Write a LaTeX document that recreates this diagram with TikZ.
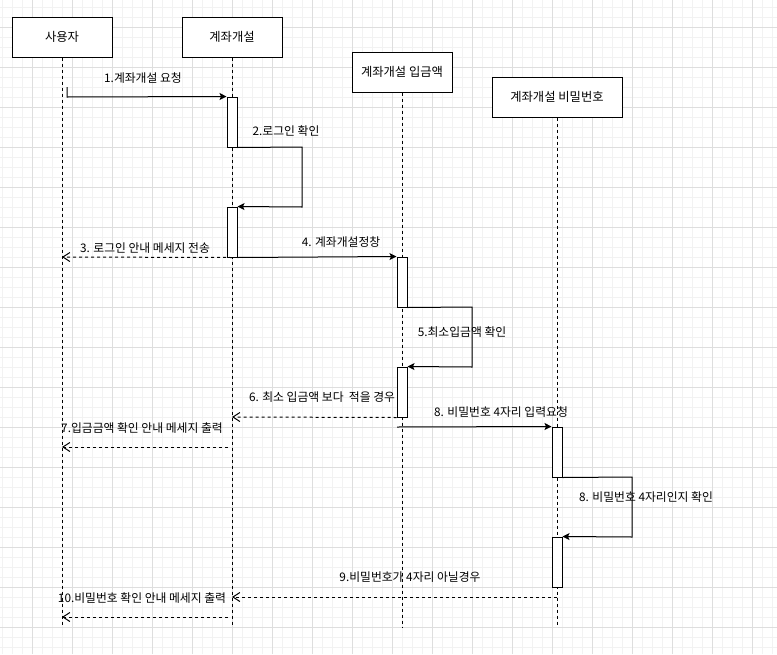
\documentclass[tikz,border=0pt]{standalone}
\usepackage{fontspec}
\setmainfont{Noto Sans CJK KR}
\usetikzlibrary{arrows.meta}
\definecolor{gridmajor}{RGB}{222,222,222}
\definecolor{gridminor}{RGB}{242,242,242}
\begin{document}
\begin{tikzpicture}[x=1pt,y=-1pt,
  actor/.style={draw,line width=1pt,fill=white,minimum height=40pt,inner sep=0pt,font=\fontsize{12.3}{14}\selectfont},
  actbar/.style={draw,line width=1pt,fill=white,minimum width=10pt,minimum height=50pt,inner sep=0pt},
  life/.style={line width=1pt,dash pattern=on 3pt off 3pt},
  msg/.style={line width=1pt,-{Stealth[length=7pt,width=7pt,inset=1.5pt]}},
  ret/.style={line width=1pt,dash pattern=on 3pt off 3pt,-{Straight Barb[length=7pt,width=9pt]}},
  lbl/.style={font=\fontsize{11.8}{13}\selectfont,inner sep=0pt}]
\useasboundingbox (0,0) rectangle (777,654);
\fill[white] (0,0) rectangle (777,654);
% grid
\foreach \x in {2,12,...,772} \draw[gridminor,line width=1pt] (\x,0) -- (\x,654);
\foreach \y in {7,17,...,647} \draw[gridminor,line width=1pt] (0,\y) -- (777,\y);
\foreach \x in {32,72,...,752} \draw[gridmajor,line width=1pt] (\x,0) -- (\x,654);
\foreach \y in {27,67,...,627} \draw[gridmajor,line width=1pt] (0,\y) -- (777,\y);
% actors
\node[actor,minimum width=100pt] (A) at (62,37) {사용자};
\node[actor,minimum width=100pt] (B) at (232,37) {계좌개설};
\node[actor,minimum width=100pt] (C) at (402,72) {계좌개설 입금액};
\node[actor,minimum width=130pt] (D) at (557,97) {계좌개설 비밀번호};
% lifeline ends
\coordinate (Aend) at (62,625);
\coordinate (Bend) at (232,625);
\coordinate (Cend) at (402,627);
\coordinate (Dend) at (557,625);
\draw[life] (A.south) -- (Aend);
\draw[life] (B.south) -- (Bend);
\draw[life] (C.south) -- (Cend);
\draw[life] (D.south) -- (Dend);
% activation bars
\node[actbar] (b1) at (232,122) {};
\node[actbar] (b2) at (232,232) {};
\node[actbar] (b3) at (402,282) {};
\node[actbar] (b4) at (402,392) {};
\node[actbar] (b5) at (557,452) {};
\node[actbar] (b6) at (557,562) {};
% helper coordinates
\coordinate (m1s) at (67,87);
\coordinate (m3e) at (62,257);
\coordinate (m7s) at (228,447);
\coordinate (m7e) at (62,447);
\coordinate (m8s) at (397,427);
\coordinate (m9s) at (557,597);
\coordinate (m9e) at (232,597);
\coordinate (m10s) at (228,617);
\coordinate (m10e) at (62,617);
% messages
\draw[msg] (m1s) -- ++(0,10) -- (b1.north west);
\node[lbl] (l1) at (143,78) {1.계좌개설 요청};
\draw[msg] (b1.south east) -- (302,147) -- (302,207) -- (b2.north east);
\node[lbl] (l2) at (286,131) {2.로그인 확인};
\draw[ret] (b2.south) -- (m3e);
\node[lbl] (l3) at (145,248) {3. 로그인 안내 메세지 전송};
\draw[msg] (b2.south east) -- (b3.north west);
\node[lbl] (l4) at (341,242) {4. 계좌개설정창};
\draw[msg] (b3.south east) -- (472,307) -- (472,367) -- (b4.north east);
\node[lbl] (l5) at (462,332) {5.최소입금액 확인};
\draw[ret] (b4.south west) -- (232,417);
\node[lbl] (l6) at (322,397) {6. 최소 입금액 보다\ \ 적을 경우};
\draw[ret] (m7s) -- (m7e);
\node[lbl] (l7) at (142,428) {7.입금금액 확인 안내 메세지 출력};
\draw[msg] (m8s) -- (b5.north west);
\node[lbl] (l8) at (501,412) {8. 비밀번호 4자리 입력요청};
\draw[msg] (b5.south east) -- (632,477) -- (632,537) -- (b6.north east);
\node[lbl] (l8b) at (646,497) {8. 비밀번호 4자리인지 확인};
\draw[ret] (m9s) -- (m9e);
\node[lbl] (l9) at (410,577) {9.비밀번호가 4자리 아닐경우};
\draw[ret] (m10s) -- (m10e);
\node[lbl] (l10) at (142,598) {10.비밀번호 확인 안내 메세지 출력};
\end{tikzpicture}
\end{document}
